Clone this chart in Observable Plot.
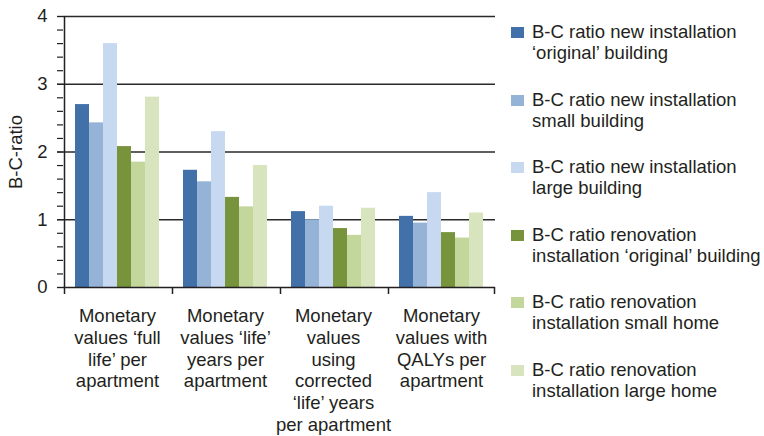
<!DOCTYPE html>
<html>
<head>
<meta charset="utf-8">
<script src="https://cdn.jsdelivr.net/npm/d3@7"></script>
<script src="https://cdn.jsdelivr.net/npm/@observablehq/plot@0.6"></script>
<style>
  html, body { margin: 0; padding: 0; background: #fff; }
  #wrap { position: relative; width: 764px; height: 436px; font-family: Arial, "Liberation Sans", sans-serif; color: #231f20; }
  #legend { position: absolute; left: 511px; top: 21px; }
  .item { position: relative; height: 67.6px; padding-left: 21px; font-size: 18.5px; line-height: 21px; white-space: nowrap; }
  .sw { position: absolute; left: 0; top: 6px; width: 13px; height: 11px; }
</style>
</head>
<body>
<div id="wrap"></div>
<script>
const groups = [
  "Monetary\nvalues ‘full\nlife’ per\napartment",
  "Monetary\nvalues ‘life’\nyears per\napartment",
  "Monetary\nvalues\nusing\ncorrected\n‘life’ years\nper apartment",
  "Monetary\nvalues with\nQALYs per\napartment"
];
const series = [
  "B-C ratio new installation\n‘original’ building",
  "B-C ratio new installation\nsmall building",
  "B-C ratio new installation\nlarge building",
  "B-C ratio renovation\ninstallation ‘original’ building",
  "B-C ratio renovation\ninstallation small home",
  "B-C ratio renovation\ninstallation large home"
];
const colors = ["#4171a8", "#95b3d7", "#c6d9f0", "#77933c", "#c3d69b", "#d7e4bd"];
// values per series, one per group
const newOriginal = [2.70, 1.73, 1.12, 1.05];
const newSmall    = [2.43, 1.56, 1.00, 0.95];
const newLarge    = [3.60, 2.30, 1.20, 1.40];
const renOriginal = [2.08, 1.33, 0.87, 0.81];
const renSmall    = [1.85, 1.19, 0.77, 0.73];
const renLarge    = [2.81, 1.80, 1.17, 1.10];
const yTicks = [0, 1, 2, 3, 4];
const yGrid = [1, 2, 3, 4];
const yMinorTicks = [0, 0.2, 0.4, 0.6, 0.8, 1, 1.2, 1.4, 1.6, 1.8, 2, 2.2, 2.4, 2.6, 2.8, 3, 3.2, 3.4, 3.6, 3.8, 4];

const seriesValues = [newOriginal, newSmall, newLarge, renOriginal, renSmall, renLarge];
const data = [];
groups.forEach((g, gi) => series.forEach((s, si) => data.push({group: g, series: s, value: seriesValues[si][gi]})));

const ink = "#231f20";
const edge = -18; // half band + outer padding offset to the group boundary

const chart = Plot.plot({
  width: 764,
  height: 436,
  marginLeft: 63,
  marginRight: 269,
  marginTop: 16,
  marginBottom: 149,
  style: {fontFamily: "Arial, 'Liberation Sans', sans-serif", fontSize: "18px", color: ink, background: "transparent"},
  fx: {domain: groups, padding: 0, axis: null, label: null},
  x: {domain: series, paddingInner: 0, paddingOuter: 0.75, axis: null},
  y: {domain: [0, 4], axis: null},
  color: {domain: series, range: colors},
  marks: [
    Plot.gridY(yGrid, {stroke: "#2a2a2a", strokeOpacity: 1, strokeWidth: 1.5}),
    Plot.barY(data, {fx: "group", x: "series", y: "value", fill: "series"}),
    Plot.ruleY([0], {stroke: ink, strokeWidth: 1.5}),
    Plot.axisY(yMinorTicks, {tickSize: 6, tickFormat: () => "", stroke: ink, strokeWidth: 1.2, label: null}),
    Plot.axisY(yTicks, {tickSize: 6, tickPadding: 10, tickFormat: d3.format("d"), fontSize: 18.5, fill: ink, stroke: ink, strokeWidth: 1.2,
      label: "B-C-ratio", labelAnchor: "center", labelOffset: 55, labelArrow: "none"}),
    Plot.ruleX([groups[0]], {fx: d => d, x: () => series[0], y1: 0, y2: 4, dx: edge, stroke: ink, strokeWidth: 1.5}),
    Plot.ruleX(groups, {fx: d => d, x: () => series[0], y1: 0, y2: 0, insetBottom: -7, dx: edge, stroke: ink, strokeWidth: 1.5}),
    Plot.ruleX([groups[groups.length - 1]], {fx: d => d, x: () => series[series.length - 1], y1: 0, y2: 0, insetBottom: -7, dx: -edge, stroke: ink, strokeWidth: 1.5}),
    Plot.axisFx({anchor: "bottom", tickSize: 0, tickPadding: 19, fontSize: 18.5, lineHeight: 1.18, fill: ink, label: null})
  ]
});

const wrap = document.getElementById("wrap");
wrap.appendChild(chart);

const legend = document.createElement("div");
legend.id = "legend";
series.forEach((s, i) => {
  const item = document.createElement("div");
  item.className = "item";
  const sw = document.createElement("span");
  sw.className = "sw";
  sw.style.background = colors[i];
  item.appendChild(sw);
  s.split("\n").forEach((line, li) => {
    if (li) item.appendChild(document.createElement("br"));
    item.appendChild(document.createTextNode(line));
  });
  legend.appendChild(item);
});
wrap.appendChild(legend);
</script>
</body>
</html>
